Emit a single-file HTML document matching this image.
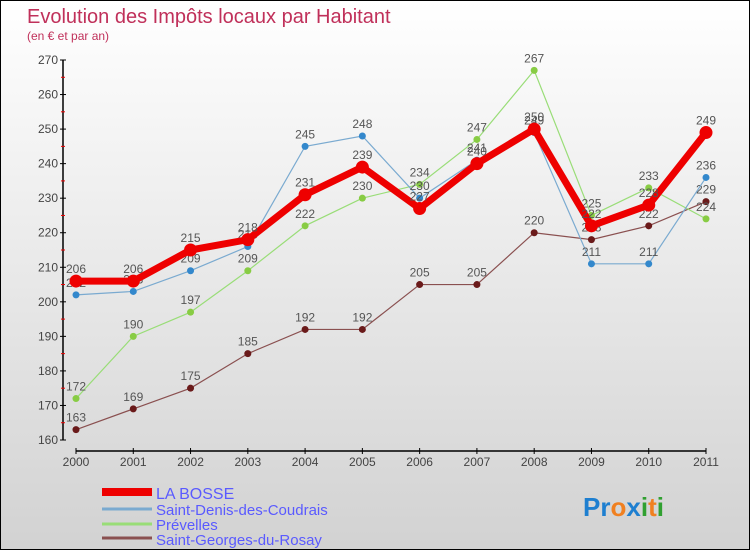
<!DOCTYPE html>
<html><head><meta charset="utf-8"><style>
body{margin:0}
#c{width:748px;height:548px;border:1px solid #000;background:linear-gradient(#fff,#d2d2d2);position:relative;font-family:"Liberation Sans",sans-serif;overflow:hidden}
</style></head><body>
<div id="c">
<svg id="s" width="748" height="548" xmlns="http://www.w3.org/2000/svg">
<text x="26" y="22" font-size="20" fill="#c0305a">Evolution des Impôts locaux par Habitant</text>
<text x="26" y="39" font-size="12" fill="#c0305a">(en € et par an)</text>
<g id="axes"></g><g id="series"></g>
<g>
<line x1="101" y1="491" x2="151" y2="491" stroke="#e00" stroke-width="8"/>
<text x="155" y="498" font-size="16" fill="#5a5aff">LA BOSSE</text>
<line x1="101" y1="508" x2="151" y2="508" stroke="#7aaad0" stroke-width="3"/>
<text x="155" y="514" font-size="15" fill="#5a5aff">Saint-Denis-des-Coudrais</text>
<line x1="101" y1="523" x2="151" y2="523" stroke="#99dd77" stroke-width="3"/>
<text x="155" y="529" font-size="15" fill="#5a5aff">Prévelles</text>
<line x1="101" y1="537" x2="151" y2="537" stroke="#8a5050" stroke-width="3"/>
<text x="155" y="544" font-size="15" fill="#5a5aff">Saint-Georges-du-Rosay</text>
</g>
<text x="582" y="515" font-size="26" font-weight="bold"><tspan fill="#1e7fd0">Pr</tspan><tspan fill="#f08020">o</tspan><tspan fill="#1e7fd0">x</tspan><tspan fill="#30a030">i</tspan><tspan fill="#f08020">t</tspan><tspan fill="#30a030">i</tspan></text>
</svg></div>
<script>
const years=["2000","2001","2002","2003","2004","2005","2006","2007","2008","2009","2010","2011"];
const yTicks=[160,170,180,190,200,210,220,230,240,250,260,270];
const laBosse=[206,206,215,218,231,239,227,240,250,222,228,249];
const saintDenis=[202,203,209,216,245,248,230,241,249,211,211,236];
const prevelles=[172,190,197,209,222,230,234,247,267,225,233,224];
const saintGeorges=[163,169,175,185,192,192,205,205,220,218,222,229];
const NS="http://www.w3.org/2000/svg";
function X(i){return 75+i*(630/(years.length-1));}
function Y(v){return 439-(v-160)*(380/110);}
function mk(tag,attrs,parent){const e=document.createElementNS(NS,tag);for(const k in attrs)e.setAttribute(k,attrs[k]);parent.appendChild(e);return e;}
const ax=document.getElementById('axes');
let l=mk('line',{x1:62,y1:Y(270),x2:62,y2:Y(160),stroke:'#000','stroke-width':1.5},ax);


yTicks.forEach(v=>{
 const t=mk('line',{x1:59,x2:65,y1:Y(v),y2:Y(v),stroke:'#000'},ax);
 
 
 const m=mk('line',{x1:60,x2:64,y1:Y(v+5),y2:Y(v+5),stroke:'#e00'},ax);
 if(v==270)m.remove();
 
 
 const tx=mk('text',{x:57,y:Y(v)+4,'text-anchor':'end','font-size':12,fill:'#444'},ax);
 tx.textContent=v;
 
 
});
l=mk('line',{x1:X(0),y1:450,x2:X(11),y2:450,stroke:'#000','stroke-width':1.5},ax);


years.forEach((y,i)=>{
 const t=mk('line',{x1:X(i),x2:X(i),y1:447,y2:453,stroke:'#000'},ax);
 
 
 const tx=mk('text',{x:X(i),y:465,'text-anchor':'middle','font-size':12,fill:'#444'},ax);
 tx.textContent=y;
 
 
});
const sg=document.getElementById('series');
function draw(data,name,color,lw,r,dot){
 const g=mk('g',{},sg);
 
 
 const p=mk('polyline',{points:data.map((v,i)=>X(i)+','+Y(v)).join(' '),fill:'none',stroke:color,'stroke-width':lw},g);
 
 
 data.forEach((v,i)=>{
  const c=mk('circle',{cx:X(i),cy:Y(v),r:r,fill:dot},g);
  
  
  const t=mk('text',{x:X(i),y:Y(v)-8,'text-anchor':'middle','font-size':12,fill:'#555'},g);
  t.textContent=v;
  
  
 });
}
draw(saintGeorges,'saint-georges','#8a5050',1.2,3.5,'#6a1a1a');
draw(prevelles,'prevelles','#99dd77',1.2,3.5,'#88cc44');
draw(saintDenis,'saint-denis','#7aaad0',1.2,3.5,'#3388cc');
draw(laBosse,'la-bosse','#e00',7,6.5,'#e00');
</script>
</body></html>
